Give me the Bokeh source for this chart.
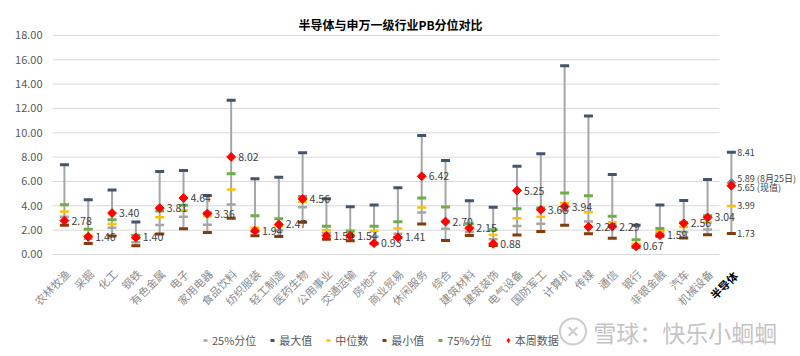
import math
from bokeh.plotting import figure
from bokeh.models import Range1d, Legend, LegendItem, Label, ColumnDataSource
from bokeh.core.properties import value
from bokeh.embed import file_html
from bokeh.resources import INLINE

categories = ["农林牧渔", "采掘", "化工", "钢铁", "有色金属", "电子", "家用电器", "食品饮料",
              "纺织服装", "轻工制造", "医药生物", "公用事业", "交通运输", "房地产", "商业贸易",
              "休闲服务", "综合", "建筑材料", "建筑装饰", "电气设备", "国防军工", "计算机",
              "传媒", "通信", "银行", "非银金融", "汽车", "机械设备", "半导体"]

max_v = [7.37, 4.49, 5.29, 2.67, 6.82, 6.90, 4.85, 12.68, 6.22, 6.35, 8.35, 4.57, 3.92, 4.06,
         5.48, 9.78, 7.72, 4.41, 3.89, 7.26, 8.27, 15.50, 11.37, 6.58, 2.40, 4.06, 4.44, 6.16, 8.41]
p75_v = [4.08, 2.08, 2.86, 1.58, 3.58, 4.05, 3.40, 6.63, 3.19, 2.93, 4.77, 2.32, 1.92, 2.32,
         2.68, 4.65, 3.91, 2.52, 2.03, 3.75, 3.83, 5.06, 4.83, 3.14, 1.21, 2.13, 2.62, 3.18, float("nan")]
med_v = [3.53, 1.56, 2.50, 1.30, 3.07, 3.62, 3.14, 5.34, 2.20, 2.35, 4.34, 2.00, 1.70, 1.94,
         2.14, 3.86, 2.75, 2.25, 1.60, 2.98, 3.11, 4.22, 3.48, 2.64, 0.88, 1.90, 2.25, 2.62, 3.99]
p25_v = [3.10, 1.30, 2.20, 1.01, 2.43, 3.10, 2.45, 4.11, 1.85, 1.97, 3.89, 1.75, 1.45, 1.45,
         1.70, 3.45, 2.11, 1.84, 1.25, 2.34, 2.52, 3.62, 2.72, 2.40, 0.75, 1.75, 1.84, 2.06, float("nan")]
min_v = [2.40, 0.90, 1.52, 0.72, 1.68, 2.11, 1.80, 2.98, 1.53, 1.48, 2.64, 1.25, 1.13, 0.88,
         1.40, 2.50, 1.15, 1.55, 0.74, 1.60, 1.89, 2.41, 1.70, 1.34, 0.60, 1.49, 1.36, 1.62, 1.73]
cur_v = [2.78, 1.46, 3.40, 1.40, 3.81, 4.64, 3.36, 8.02, 1.94, 2.47, 4.56, 1.54, 1.54, 0.93,
         1.41, 6.42, 2.70, 2.15, 0.88, 5.25, 3.68, 3.94, 2.27, 2.29, 0.67, 1.59, 2.56, 3.04, 5.65]
semi_prev = 5.89
semi_prev_label = "5.89 (8月25日)"
semi_cur_label = "5.65 (现值)"
y_ticks = [0, 2, 4, 6, 8, 10, 12, 14, 16, 18]
title_text = "半导体与申万一级行业PB分位对比"

n = len(categories)
xs = list(range(n))
n_ind = n - 1

FONT = "Noto Sans CJK SC"
PX_X = 23.82
PX_Y = 12.17
x0 = -0.5 - 52 / PX_X

p = figure(width=800, height=356, output_backend="svg", toolbar_location=None,
           x_range=Range1d(x0, x0 + 800 / PX_X), y_range=Range1d(20.87 - 356 / PX_Y, 20.87),
           min_border_left=0, min_border_right=0, min_border_top=0, min_border_bottom=0)
p.outline_line_color = None
p.xaxis.visible = False
p.yaxis.visible = False
p.xgrid.visible = False
p.ygrid.visible = False

# gridlines over the 28 industry slots and y tick labels
p.segment(x0=[-0.5] * len(y_ticks), y0=y_ticks, x1=[n_ind - 0.5] * len(y_ticks), y1=y_ticks,
          line_color="#d9d9d9", line_width=1)
p.text(x=[-0.5] * len(y_ticks), y=y_ticks, text=["%.2f" % t for t in y_ticks], x_offset=-10,
       text_align="right", text_baseline="middle", text_font=value(FONT),
       text_font_size="11px", text_color="#595959")

src = ColumnDataSource(dict(x=xs, mx=max_v, p75=p75_v, med=med_v, p25=p25_v, mn=min_v, cur=cur_v))

p.segment(x0="x", y0="mn", x1="x", y1="mx", source=src, line_color="#a6a6a6", line_width=2)

r25 = p.scatter("x", "p25", source=src, marker="dash", size=9, line_width=2.5, line_color="#a5a5a5")
rmax = p.scatter("x", "mx", source=src, marker="dash", size=9, line_width=3, line_color="#44546a")
rmed = p.scatter("x", "med", source=src, marker="dash", size=9, line_width=2.5, line_color="#ffc000")
rmin = p.scatter("x", "mn", source=src, marker="dash", size=9, line_width=3, line_color="#843c0c")
r75 = p.scatter("x", "p75", source=src, marker="dash", size=9, line_width=3, line_color="#70ad47")
# semiconductor previous value
p.scatter([xs[-1]], [semi_prev], marker="square", angle=math.pi / 4, size=6,
          fill_color="#808080", line_color="#808080")
# legend glyph for the current-value series (sits under the semiconductor's current point)
rcur_leg = p.scatter(x=[xs[-1]], y=[cur_v[-1]], marker="diamond", size=8,
                     fill_color="#ff0000", line_color="#ff0000")
p.scatter("x", "cur", source=src, marker="square", angle=math.pi / 4, size=6.3,
          fill_color="#ff0000", line_color="#ff0000")

# current value labels for industries
lab_src = ColumnDataSource(dict(x=xs[:n_ind], y=cur_v[:n_ind], t=["%.2f" % v for v in cur_v[:n_ind]]))
p.text("x", "y", text="t", source=lab_src, x_offset=7, text_baseline="middle", text_align="left",
       text_font=value(FONT), text_font_size="10.5px", text_color="#404040")

# semiconductor labels
sx = xs[-1]
semi_src = ColumnDataSource(dict(
    x=[sx] * 5,
    y=[max_v[-1], semi_prev, cur_v[-1], med_v[-1], min_v[-1]],
    t=["%.2f" % max_v[-1], semi_prev_label, semi_cur_label, "%.2f" % med_v[-1], "%.2f" % min_v[-1]],
    dy=[0, -4, 2, 0, 0]))
p.text("x", "y", text="t", source=semi_src, x_offset=6, y_offset="dy", text_baseline="middle",
       text_font=value(FONT), text_font_size="9px", text_color="#404040")

# category labels
cat_src = ColumnDataSource(dict(x=xs[:n_ind], y=[0] * n_ind, t=categories[:n_ind]))
p.text("x", "y", text="t", source=cat_src, angle=math.pi / 4, x_offset=3, y_offset=17,
       text_align="right", text_baseline="middle", text_font=value(FONT),
       text_font_size="11px", text_color="#8c8c8c")
p.text([xs[-1]], [0], text=[categories[-1]], angle=math.pi / 4, x_offset=4, y_offset=19,
       text_align="right", text_baseline="middle", text_font=value(FONT),
       text_font_size="11px", text_font_style="bold", text_color="#000000")

# title
p.add_layout(Label(x=13.69, y=18.9, text=title_text, text_align="center", text_baseline="middle",
                   text_font=FONT, text_font_size="12px", text_font_style="bold", text_color="#000000"))

# watermark
p.scatter([21.35], [-6.33], marker="circle", size=26, fill_color=None, line_color="#cccccc", line_width=2)
p.scatter([21.35], [-6.33], marker="x", size=12, line_color="#cccccc", line_width=2)
p.add_layout(Label(x=22.2, y=-6.33, text="雪球：快乐小蛔蛔", text_align="left", text_baseline="middle",
                   text_font=FONT, text_font_size="23px", text_color="#c4c4c4"))

legend = Legend(items=[LegendItem(label="25%分位", renderers=[r25]),
                       LegendItem(label="最大值", renderers=[rmax]),
                       LegendItem(label="中位数", renderers=[rmed]),
                       LegendItem(label="最小值", renderers=[rmin]),
                       LegendItem(label="75%分位", renderers=[r75]),
                       LegendItem(label="本周数据", renderers=[rcur_leg])],
                orientation="horizontal", location=(200, 8))
legend.label_text_font = FONT
legend.label_text_font_size = "11px"
legend.label_text_color = "#595959"
legend.glyph_width = 10
legend.glyph_height = 14
legend.label_height = 14
legend.label_standoff = 2
legend.spacing = 11
legend.padding = 0
legend.margin = 0
legend.border_line_color = None
legend.background_fill_alpha = 0
p.add_layout(legend)

open("out.html", "w").write(file_html(p, INLINE))
